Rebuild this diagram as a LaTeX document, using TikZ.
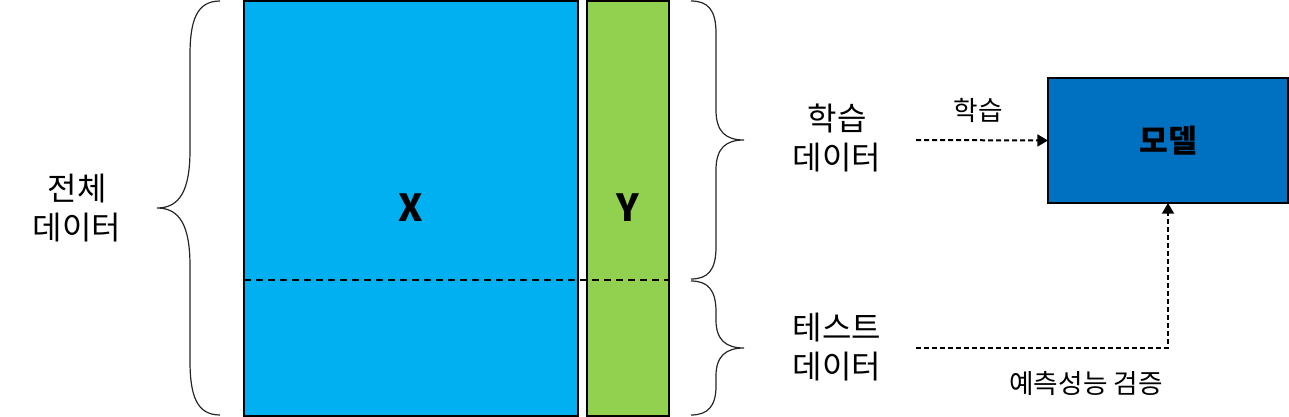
\documentclass[tikz,border=0pt]{standalone}
\usepackage{fontspec}
\setmainfont{Noto Sans CJK KR}
\usetikzlibrary{arrows.meta}
\definecolor{xblue}{HTML}{00B0F0}
\definecolor{ygreen}{HTML}{92D050}
\definecolor{mblue}{HTML}{0070C0}
\tikzset{
  databox/.style={draw=black, line width=1.5pt, inner sep=0pt, outer sep=0pt},
  brace/.style={draw=black!85, line width=0.9pt},
  lbl/.style={align=center, inner sep=0pt, font=\fontsize{24}{29.5}\selectfont},
  smalllbl/.style={inner sep=0pt, font=\fontsize{20}{24}\selectfont},
  split/.style={line width=1.8pt, dash pattern=on 5.5pt off 3.5pt},
  flow/.style={line width=1.5pt, dash pattern=on 3.8pt off 2.2pt, -{Triangle[length=8pt,width=9pt]}}
}
\begin{document}
\begin{tikzpicture}[x=0.75pt,y=-0.75pt]
\useasboundingbox (0,0) rectangle (1289,417);
% data blocks
\node[databox, fill=xblue, minimum width=250.5pt, minimum height=310.5pt] (xb) at (411,208.5) {};
\node[databox, fill=ygreen, minimum width=61.5pt, minimum height=310.5pt] (yb) at (628,208.5) {};
\node[font=\fontsize{28}{30}\selectfont\bfseries] (xl) at (411,208) {X};
\node[font=\fontsize{28}{30}\selectfont\bfseries] (yl) at (628,208) {Y};
% split line
\coordinate (sl) at (244,280);
\coordinate (sr) at (669,280);
\draw[split] (sl) -- (sr);
% braces
\draw[brace] (220,1) .. controls (197,1) and (190,20) .. (190,55) -- (190,150)
  .. controls (190,190) and (180,208) .. (157,208)
  .. controls (180,208) and (190,226) .. (190,266) -- (190,361)
  .. controls (190,396) and (197,415) .. (220,415);
\draw[brace] (691,1) .. controls (708,1) and (716,10) .. (716,33) -- (716,110)
  .. controls (716,132) and (726,140) .. (744,140)
  .. controls (726,140) and (716,148) .. (716,170) -- (716,247)
  .. controls (716,270) and (708,279) .. (691,279);
\draw[brace] (691,281) .. controls (708,281) and (716,290) .. (716,312) -- (716,320)
  .. controls (716,340) and (726,348) .. (744,348)
  .. controls (726,348) and (716,356) .. (716,376) -- (716,386)
  .. controls (716,406) and (708,415) .. (691,415);
% labels
\node[lbl] (all) at (77,208) {전체\\데이터};
\node[lbl] (train) at (837,138) {학습\\데이터};
\node[lbl] (test) at (837,347) {테스트\\데이터};
% model
\node[draw=black, line width=1.2pt, fill=mblue, minimum width=180pt, minimum height=93.75pt, inner sep=0pt, outer sep=0pt,
  font=\fontsize{23.5}{26}\selectfont\bfseries] (model) at (1168,140.5) {모델};
% flows
\coordinate (a1) at (916,140);
\coordinate (a2) at (916,348);
\draw[flow] (a1) -- (model.west);
\draw[flow] (a2) -| (model.south);
\node[smalllbl] (lt) at (978,110) {학습};
\node[smalllbl] (lv) at (1086,383) {예측성능 검증};
\end{tikzpicture}
\end{document}
